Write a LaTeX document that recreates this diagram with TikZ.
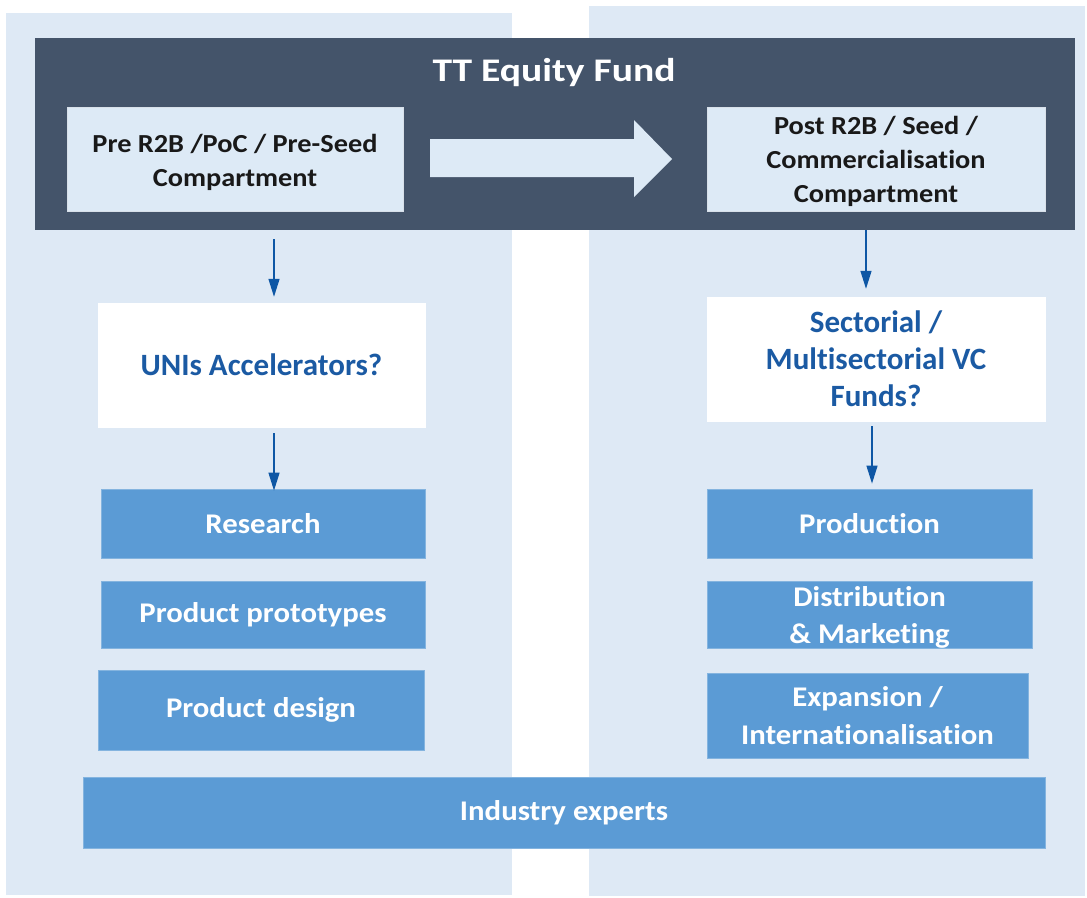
\documentclass[tikz,border=0pt]{standalone}
\usepackage{fontspec}
\defaultfontfeatures{Ligatures={NoCommon,NoContextual},Contextuals=NoAlternate}
\setmainfont{Carlito}
\newfontfamily\titlefont[FakeStretch=1.2]{Carlito}
\newfontfamily\compfont[FakeStretch=1.09]{Carlito}
\newfontfamily\bluefont[FakeStretch=1.08]{Carlito}
\usetikzlibrary{arrows.meta}
\definecolor{panel}{HTML}{DEE9F5}
\definecolor{fund}{HTML}{44546A}
\definecolor{comp}{HTML}{DDEAF6}
\definecolor{accent}{HTML}{5B9BD5}
\definecolor{arrowblue}{HTML}{0E57A5}
\definecolor{textblue}{HTML}{1B5AA3}
\tikzset{
  rbox/.style={inner sep=0pt, align=center},
  compbox/.style={rbox, fill=comp, draw=comp!80!fund!60, line width=0.8pt, text=black!90, font=\compfont\bfseries\fontsize{26}{34}\selectfont},
  whitebox/.style={rbox, fill=white, draw=white, text=textblue, font=\bfseries\fontsize{31}{37}\selectfont},
  bluebox/.style={rbox, fill=accent, draw=accent!75!white, line width=0.8pt, text=white, font=\bluefont\bfseries\fontsize{28.5}{37.5}\selectfont},
  conn/.style={draw=arrowblue, line width=1.3pt, -{Triangle[length=18pt,width=11pt]}},
}
\begin{document}
\begin{tikzpicture}[x=1pt,y=-1pt]
\useasboundingbox (0,0) rectangle (1087,897);
% panels
\fill[panel] (6,13) rectangle (512,895);
\fill[panel] (589,6) rectangle (1085,896);
% fund box
\node[rbox, fill=fund, minimum width=1040pt, minimum height=192pt] (fund) at (555,134) {};
\node[rbox, text=white, font=\titlefont\bfseries\fontsize{33}{40}\selectfont] (title) at (554,73) {TT Equity Fund};
\node[compbox, minimum width=336pt, minimum height=104pt] (pre) at (235,159) {};
\node[compbox, fill=none, draw=none] (pretext) at (235,162) {Pre R2B /PoC / Pre-Seed\\Compartment};
\node[compbox, minimum width=338pt, minimum height=104pt] (post) at (876,159) {};
\node[compbox, fill=none, draw=none] (posttext) at (876,161) {Post R2B / Seed /\\Commercialisation\\Compartment};
% big arrow
\fill[comp] (430,139) -- (634,139) -- (634,120) -- (672,159) -- (634,197) -- (634,177) -- (430,177) -- cycle;
% second level
\node[whitebox, minimum width=327pt, minimum height=124pt] (uni) at (261.5,365) {UNIs Accelerators?};
\node[whitebox, minimum width=338pt, minimum height=124pt] (sect) at (876,359) {Sectorial /\\Multisectorial VC\\Funds?};
% blue boxes
\node[bluebox, minimum width=324pt, minimum height=69pt] (research) at (263,523.5) {Research};
\node[bluebox, minimum width=324pt, minimum height=67pt] (proto) at (263,614.5) {Product prototypes};
\node[bluebox, minimum width=326pt, minimum height=80pt] (design) at (261,710) {Product design};
\node[bluebox, minimum width=325pt, minimum height=69pt] (prod) at (869.5,523.5) {Production};
\node[bluebox, minimum width=325pt, minimum height=67pt] (dist) at (869.5,614.5) {};
\node[bluebox, fill=none, draw=none] (disttext) at (869.5,617.5) {Distribution\\\&~Marketing};
\node[bluebox, minimum width=321pt, minimum height=85pt] (exp) at (867.5,715.5) {Expansion /\\Internationalisation};
\node[bluebox, minimum width=962pt, minimum height=71pt] (ind) at (564,812.5) {Industry experts};
% connectors
\coordinate (a1) at (274,239);
\coordinate (a2) at (274,433);
\coordinate (b1) at (866,230);
\coordinate (b2) at (872,426);
\draw[conn, shorten >=6pt] (a1) -- (uni.north -| a1);
\draw[conn, shorten >=-2pt] (a2) -- (research.north -| a2);
\draw[conn, shorten >=8pt] (b1) -- (sect.north -| b1);
\draw[conn, shorten >=5pt] (b2) -- (prod.north -| b2);
\end{tikzpicture}
\end{document}
